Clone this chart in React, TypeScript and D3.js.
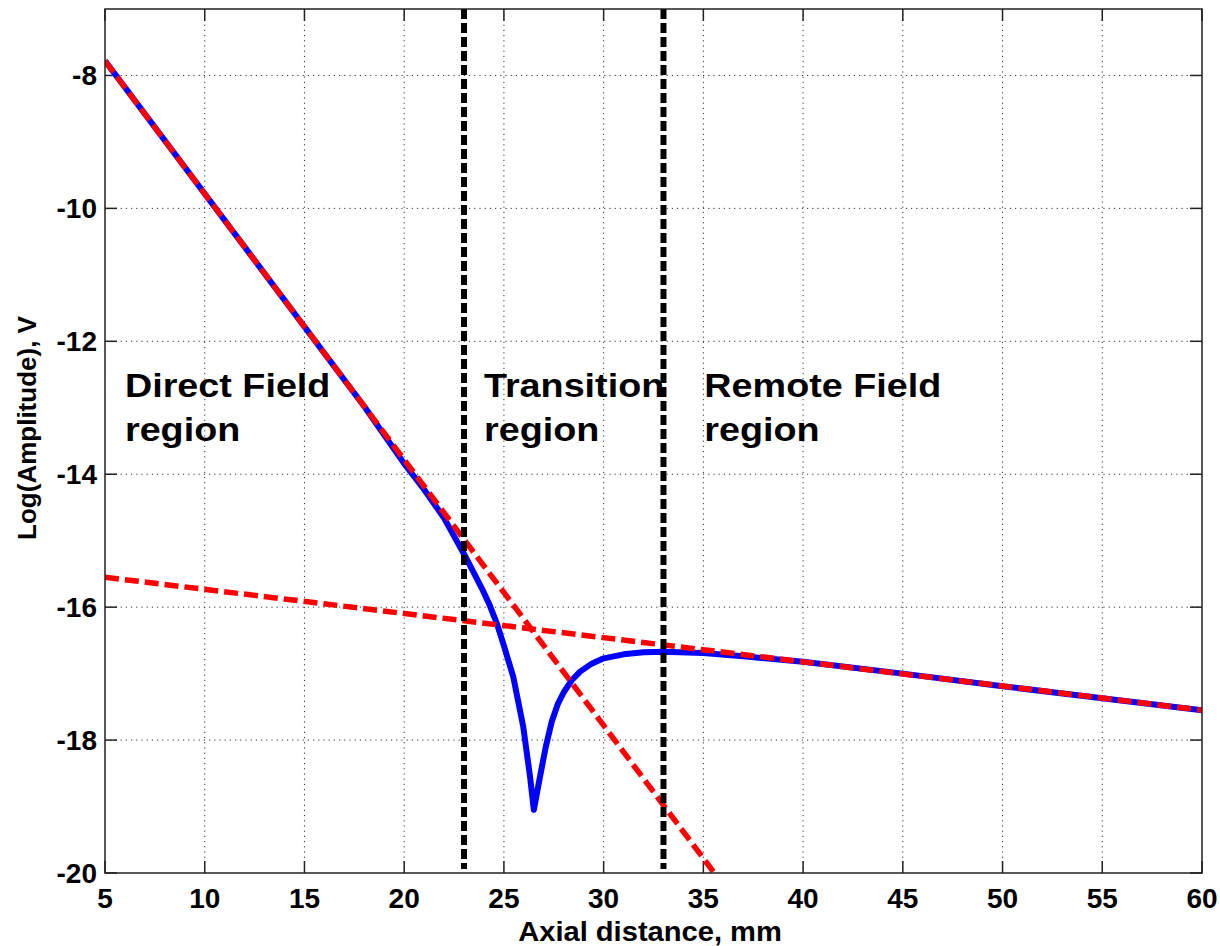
import React from "react";
import * as d3 from "d3";

const xTicks = [5, 10, 15, 20, 25, 30, 35, 40, 45, 50, 55, 60];
const yTicks = [-20, -18, -16, -14, -12, -10, -8];

// Measured signal (blue)
const measuredX = [5, 10, 15, 18, 20, 21, 22, 23, 23.9, 24.3, 24.64, 25.0, 25.47, 25.97, 26.31, 26.5, 26.81, 27.1, 27.4, 27.7, 28.0, 28.4, 28.82, 29.4, 30, 31, 32, 33, 35, 37, 40, 45, 50, 55, 60];
const measuredY = [-7.78, -9.78, -11.78, -12.98, -13.84, -14.23, -14.66, -15.2, -15.72, -15.98, -16.24, -16.58, -17.05, -17.8, -18.55, -19.05, -18.55, -18.1, -17.72, -17.46, -17.28, -17.1, -16.97, -16.85, -16.77, -16.71, -16.68, -16.67, -16.69, -16.74, -16.82, -17.0, -17.19, -17.37, -17.55];

// Direct field asymptote (red dashed, steep)
const directX = [5, 35.5];
const directY = [-7.78, -19.98];

// Remote field asymptote (red dashed, shallow)
const remoteX = [5, 60];
const remoteY = [-15.55, -17.55];

// Region boundaries (black dashed)
const boundaries = [23, 33];

const regionLabels = [
  { x: 6, lines: ["Direct Field", "region"] },
  { x: 24, lines: ["Transition", "region"] },
  { x: 35.05, lines: ["Remote Field", "region"] },
];

const W = 1220;
const H = 946;
const left = 105, right = 1202, top = 9, bottom = 873;

export default function App() {
  const x = d3.scaleLinear().domain([5, 60]).range([left, right]);
  const y = d3.scaleLinear().domain([-20, -7]).range([bottom, top]);
  const line = d3.line<[number, number]>().x((d) => x(d[0])).y((d) => y(d[1]));
  const zip = (a: number[], b: number[]) => a.map((v, i) => [v, b[i]] as [number, number]);
  const font = "'Liberation Sans', Arial, Helvetica, sans-serif";
  const tickLen = 12;

  return (
    <svg width={W} height={H} style={{ position: "absolute", left: 0, top: 0, background: "#fff" }}>
      <defs>
        <clipPath id="plot">
          <rect x={left} y={top} width={right - left} height={bottom - top} />
        </clipPath>
      </defs>
      {/* grid */}
      {xTicks.slice(1, -1).map((t) => (
        <line key={"gx" + t} x1={x(t)} x2={x(t)} y1={top} y2={bottom} stroke="#333" strokeWidth={1} strokeDasharray="1.2,4" />
      ))}
      {yTicks.slice(1).map((t) => (
        <line key={"gy" + t} x1={left} x2={right} y1={y(t)} y2={y(t)} stroke="#333" strokeWidth={1} strokeDasharray="1.2,4" />
      ))}
      {/* ticks */}
      {xTicks.map((t) => (
        <g key={"tx" + t}>
          <line x1={x(t)} x2={x(t)} y1={bottom} y2={bottom - tickLen} stroke="#222" strokeWidth={1.5} />
          <line x1={x(t)} x2={x(t)} y1={top} y2={top + tickLen} stroke="#222" strokeWidth={1.5} />
          <text x={x(t)} y={908} textAnchor="middle" fontFamily={font} fontWeight="bold" fontSize={28}>{t}</text>
        </g>
      ))}
      {yTicks.map((t) => (
        <g key={"ty" + t}>
          <line x1={left} x2={left + tickLen} y1={y(t)} y2={y(t)} stroke="#222" strokeWidth={1.5} />
          <line x1={right} x2={right - tickLen} y1={y(t)} y2={y(t)} stroke="#222" strokeWidth={1.5} />
          <text x={97} y={y(t) + 10} textAnchor="end" fontFamily={font} fontWeight="bold" fontSize={28}>{t}</text>
        </g>
      ))}
      <g clipPath="url(#plot)">
        <path d={line(zip(measuredX, measuredY)) || ""} fill="none" stroke="#0000ff" strokeWidth={6} strokeLinejoin="round" />
        <path d={line(zip(directX, directY)) || ""} fill="none" stroke="#ff0000" strokeWidth={5.5} strokeDasharray="14,6" />
        <path d={line(zip(remoteX, remoteY)) || ""} fill="none" stroke="#ff0000" strokeWidth={5.5} strokeDasharray="14,6" />
        {boundaries.map((b) => (
          <line key={"b" + b} x1={x(b)} x2={x(b)} y1={top} y2={bottom - 4} stroke="#000" strokeWidth={6} strokeDasharray="10,4" />
        ))}
      </g>
      {/* box */}
      <rect x={left} y={top} width={right - left} height={bottom - top} fill="none" stroke="#222" strokeWidth={1.5} />
      {/* region labels */}
      {regionLabels.map((r) => (
        <g key={r.lines[0]} transform={`translate(${x(r.x)},397) scale(1.11,1)`}>
          <text x={0} y={0} fontFamily={font} fontWeight="bold" fontSize={34}>{r.lines[0]}</text>
          <text x={0} y={44} fontFamily={font} fontWeight="bold" fontSize={34}>{r.lines[1]}</text>
        </g>
      ))}
      {/* axis labels */}
      <text transform="translate(650,941) scale(1.04,1)" textAnchor="middle" fontFamily={font} fontWeight="bold" fontSize={28}>Axial distance, mm</text>
      <text transform={`translate(36,428) rotate(-90)`} textAnchor="middle" fontFamily={font} fontWeight="bold" fontSize={26}>Log(Amplitude), V</text>
    </svg>
  );
}
